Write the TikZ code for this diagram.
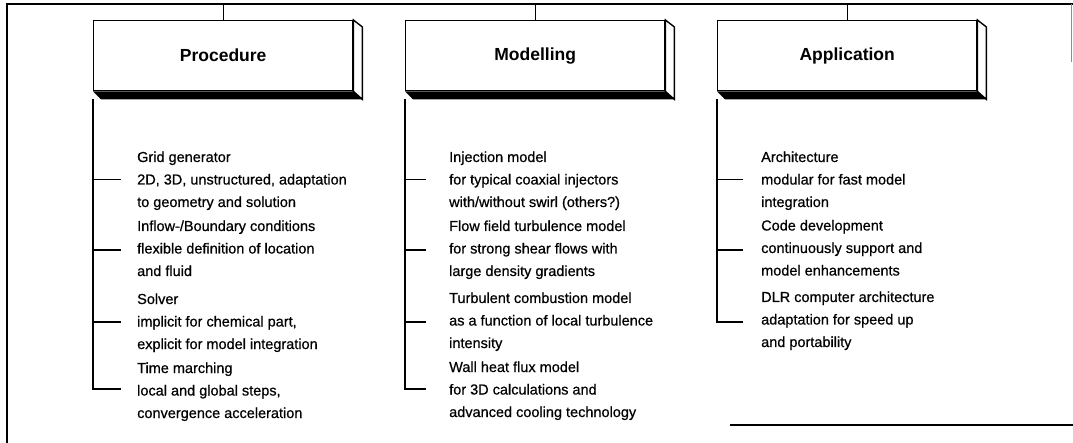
\documentclass[tikz,border=0pt]{standalone}
\usepackage{fontspec}
\setmainfont{Liberation Sans}
\newfontfamily\bodyfont[FakeBold=0.6]{Liberation Sans}
\usetikzlibrary{calc}
\tikzset{
  frameline/.style={line width=1.4pt},
  face/.style={draw, line width=1.4pt, fill=white},
  headbox/.style={face, minimum width=259pt, minimum height=70pt, anchor=north west, inner sep=0pt,
    font=\bfseries\fontsize{17.5}{20}\selectfont},
  band/.style={fill=black},
  trunk/.style={line width=1.2pt},
  group/.style={anchor=base west, inner sep=0pt, align=left,
    font=\bodyfont\fontsize{14.5}{22.5}\selectfont},
}
\begin{document}
\begin{tikzpicture}[x=1pt,y=-1pt]
\useasboundingbox (0,0) rectangle (1073,443);
% frame
\coordinate (topl) at (7,4);
\coordinate (topr) at (1073,4);
\coordinate (botl) at (7,443);
\coordinate (bl) at (730,425);
\coordinate (br) at (1073,425);
\coordinate (rt) at (1071,4);
\coordinate (rb) at (1071,62);
\draw[frameline] (botl) -- (topl) -- (topr);
\draw[frameline] (bl) -- (br);
\draw[line width=0.6pt, black!45] (rt) -- (rb);

% header boxes
\foreach \nm/\x/\t in {proc/93/Procedure, mod/405/Modelling, app/717/Application}{
  \node[headbox] (\nm) at (\x,20) {\raisebox{-2pt}{\t}};
  \fill[band] (\nm.south west) -- (\nm.south east) -- ($(\nm.south east)+(9,8)$) -- ($(\nm.south west)+(8,8)$) -- cycle;
  \draw[face] (\nm.north east) -- ($(\nm.north east)+(9,7)$) -- ($(\nm.south east)+(9,8)$) -- (\nm.south east) -- cycle;
  \draw[frameline] (\nm.north) -- (\nm.north |- topl);
}

% Procedure column (anchor = baseline of the last line)
\node[group] (p1) at (137,207) {Grid generator\\2D, 3D, unstructured, adaptation\\to geometry and solution};
\node[group] (p2) at (137,276) {Inflow-/Boundary conditions\\flexible definition of location\\and fluid};
\node[group] (p3) at (137,349) {Solver\\implicit for chemical part,\\explicit for model integration};
\node[group] (p4) at (137,418) {Time marching\\local and global steps,\\convergence acceleration};
\coordinate (ps1) at (121,179.5);
\coordinate (ps2) at (121,250);
\coordinate (ps3) at (121,322);
\coordinate (ps4) at (121,389);
\draw[trunk] ($(proc.south west)+(0,8)$) |- (ps4);
\foreach \s in {ps1,ps2,ps3}{\draw[trunk] (proc.west |- \s) -- (\s);}

% Modelling column
\node[group] (m1) at (449,207) {Injection model\\for typical coaxial injectors\\with/without swirl (others?)};
\node[group] (m2) at (449,276) {Flow field turbulence model\\for strong shear flows with\\large density gradients};
\node[group] (m3) at (449,348) {Turbulent combustion model\\as a function of local turbulence\\intensity};
\node[group] (m4) at (449,417) {Wall heat flux model\\for 3D calculations and\\advanced cooling technology};
\coordinate (ms1) at (426,179.5);
\coordinate (ms2) at (426,250);
\coordinate (ms3) at (426,322);
\coordinate (ms4) at (426,389);
\draw[trunk] ($(mod.south west)+(0,8)$) |- (ms4);
\foreach \s in {ms1,ms2,ms3}{\draw[trunk] (mod.west |- \s) -- (\s);}

% Application column
\node[group] (a1) at (761,207) {Architecture\\modular for fast model\\integration};
\node[group] (a2) at (761,275.5) {Code development\\continuously support and\\model enhancements};
\node[group] (a3) at (761,347) {DLR computer architecture\\adaptation for speed up\\and portability};
\coordinate (as1) at (743,179.5);
\coordinate (as2) at (743,250);
\coordinate (as3) at (743,322);
\draw[trunk] ($(app.south west)+(0,8)$) |- (as3);
\foreach \s in {as1,as2}{\draw[trunk] (app.west |- \s) -- (\s);}
\end{tikzpicture}
\end{document}
